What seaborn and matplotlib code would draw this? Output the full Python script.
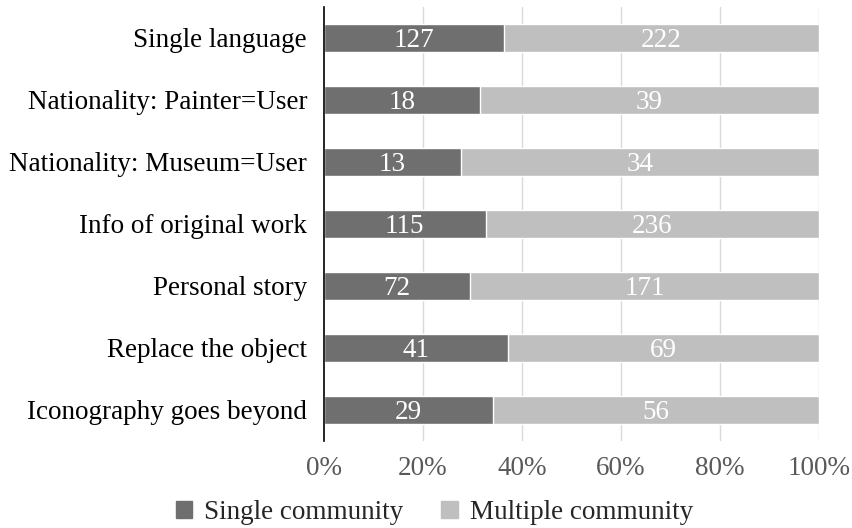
import matplotlib
matplotlib.use("Agg")
import matplotlib.pyplot as plt
import seaborn as sns
import pandas as pd
import numpy as np
from matplotlib.patches import Patch

categories = ["Single language", "Nationality: Painter=User", "Nationality: Museum=User",
              "Info of original work", "Personal story", "Replace the object",
              "Iconography goes beyond"]
single = [127, 18, 13, 115, 72, 41, 29]
multiple = [222, 39, 34, 236, 171, 69, 56]
series_names = ["Single community", "Multiple community"]
colors = ["#6f6f6f", "#bfbfbf"]
xticks = [0, 20, 40, 60, 80, 100]

sns.set_theme(style="white")
plt.rcParams['font.family'] = ['Liberation Serif', 'DejaVu Serif']

FS = 19.5

df = pd.DataFrame({"cat": categories, "single": single, "multiple": multiple})
df["total"] = df["single"] + df["multiple"]
df["single_pct"] = df["single"] / df["total"] * 100
df["total_pct"] = df["total"] / df["total"] * 100

fig = plt.figure(figsize=(8.52, 5.28), dpi=100)
ax = fig.add_axes([0.380, 0.165, 0.581, 0.822])

sns.barplot(data=df, y="cat", x="total_pct", color=colors[1], orient="h",
            width=0.45, ax=ax, saturation=1, zorder=2)
sns.barplot(data=df, y="cat", x="single_pct", color=colors[0], orient="h",
            width=0.45, ax=ax, saturation=1, zorder=3)

for i, row in df.iterrows():
    ax.text(row["single_pct"] / 2, i, str(row["single"]), color="white",
            ha="center", va="center_baseline", fontsize=FS, zorder=4)
    ax.text(row["single_pct"] + (100 - row["single_pct"]) / 2, i, str(row["multiple"]),
            color="white", ha="center", va="center_baseline", fontsize=FS, zorder=4)

ax.set_xlim(0, 100)
ax.set_ylim(6.5, -0.5)
ax.set_xticks(xticks)
ax.set_xticklabels([f"{t}%" for t in xticks], fontsize=FS, color="#595959")
ax.tick_params(axis="y", labelsize=FS, length=0, pad=12, labelcolor="black")
ax.tick_params(axis="x", length=0, pad=11)
ax.set_xlabel("")
ax.set_ylabel("")
for t in xticks[1:]:
    ax.axvline(t, color="#d9d9d9", lw=1, zorder=1)
for s in ["top", "right", "bottom"]:
    ax.spines[s].set_visible(False)
ax.spines["left"].set_color("black")
ax.spines["left"].set_linewidth(1.2)
ax.spines["left"].set_zorder(5)

handles = [Patch(color=c, label=n) for c, n in zip(colors, series_names)]
fig.legend(handles=handles, loc="center", bbox_to_anchor=(0.51, 0.03), ncol=2,
           frameon=False, fontsize=FS, handlelength=0.6, handleheight=0.6,
           handletextpad=0.45, columnspacing=1.4)

fig.savefig("out.png", dpi=100)
